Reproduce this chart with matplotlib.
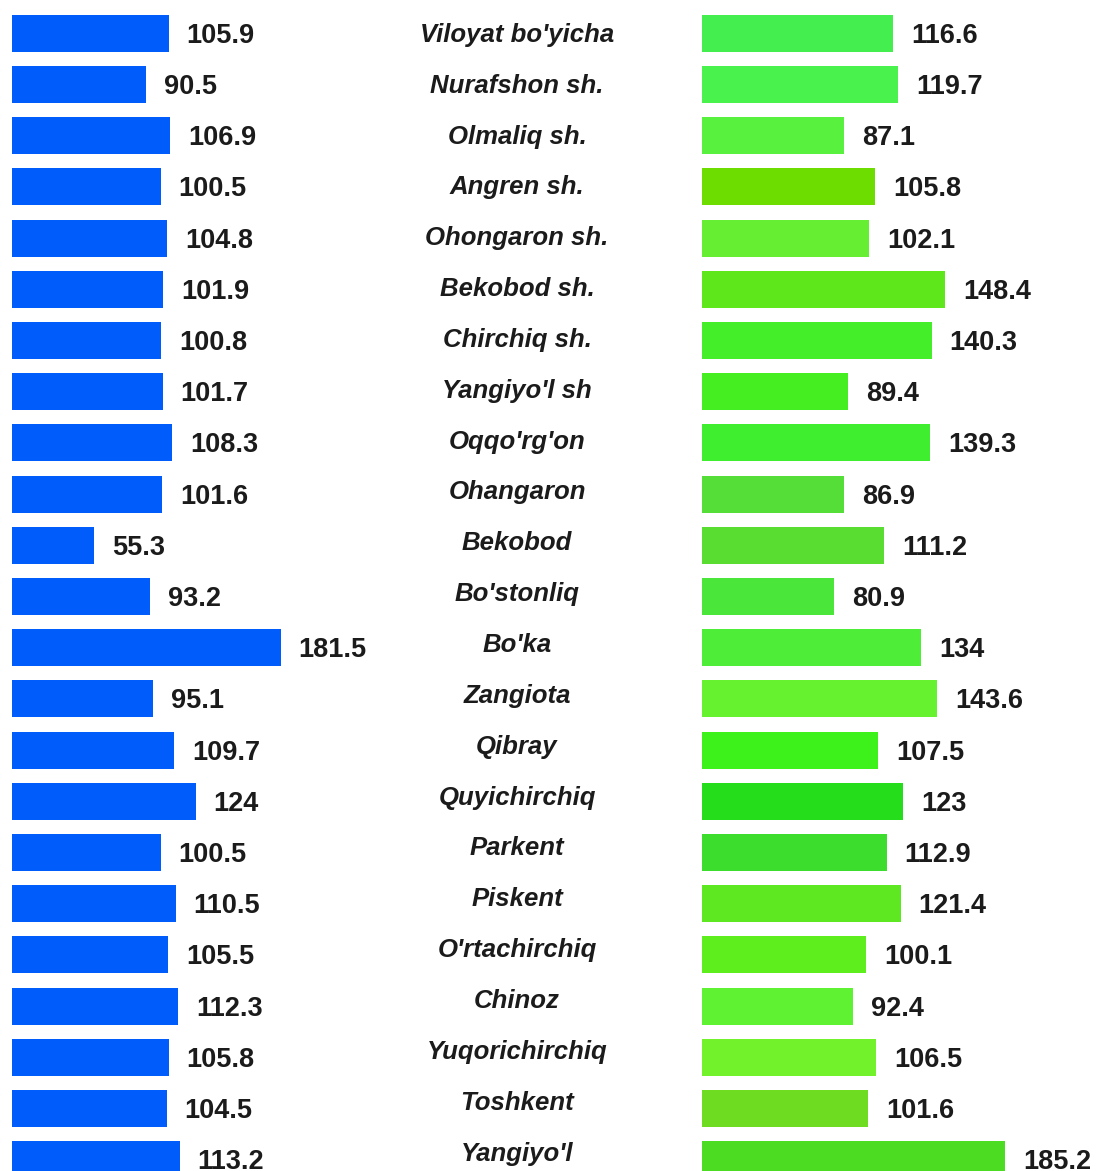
import matplotlib
matplotlib.use("Agg")
import matplotlib.pyplot as plt

districts = [
    "Viloyat bo'yicha", "Nurafshon sh.", "Olmaliq sh.", "Angren sh.",
    "Ohongaron sh.", "Bekobod sh.", "Chirchiq sh.", "Yangiyo'l sh",
    "Oqqo'rg'on", "Ohangaron", "Bekobod", "Bo'stonliq", "Bo'ka",
    "Zangiota", "Qibray", "Quyichirchiq", "Parkent", "Piskent",
    "O'rtachirchiq", "Chinoz", "Yuqorichirchiq", "Toshkent", "Yangiyo'l",
]
left_values = [
    105.9, 90.5, 106.9, 100.5, 104.8, 101.9, 100.8, 101.7, 108.3, 101.6,
    55.3, 93.2, 181.5, 95.1, 109.7, 124, 100.5, 110.5, 105.5, 112.3,
    105.8, 104.5, 113.2,
]
right_values = [
    116.6, 119.7, 87.1, 105.8, 102.1, 148.4, 140.3, 89.4, 139.3, 86.9,
    111.2, 80.9, 134, 143.6, 107.5, 123, 112.9, 121.4, 100.1, 92.4,
    106.5, 101.6, 185.2,
]
right_colors = [
    "#44ee4e", "#4af24d", "#58f23e", "#6ddd00", "#66ee33", "#5ee81c",
    "#44ee28", "#44ee20", "#40ee30", "#55dd38", "#58dd30", "#4ae63a",
    "#4eee38", "#66f22e", "#3cf21a", "#26dd1c", "#3cdd2c", "#5ee822",
    "#5eee1e", "#5ef232", "#72f22a", "#6edd22", "#4cdd22",
]
left_color = "#005cfa"
text_color = "#1b1b1b"

W, H = 1096, 1171
fig = plt.figure(figsize=(W / 100, H / 100), dpi=100)

n = len(districts)
row0, step = 33.3, 51.2  # pixel centre of first row and row pitch
top_px = row0 - step / 2
bot_px = row0 + (n - 1) * step + step / 2
ax_bottom = (H - bot_px) / H
ax_height = (bot_px - top_px) / H
ypos = list(range(n))


def bar_panel(left_px, px_per_unit, values, colors):
    xmax = 200
    ax = fig.add_axes([left_px / W, ax_bottom, xmax * px_per_unit / W, ax_height])
    ax.barh(ypos, values, height=0.72, color=colors, edgecolor="none")
    ax.set_xlim(0, xmax)
    ax.set_ylim(n - 0.5, -0.5)
    ax.axis("off")
    gap = 18 / px_per_unit
    for y, v in zip(ypos, values):
        label = f"{v:g}"
        ax.text(v + gap, y + 0.05, label, va="center", ha="left",
                fontsize=19.5, color=text_color, family="Liberation Sans",
                fontweight="bold")
    return ax


bar_panel(12, 1.48, left_values, left_color)
bar_panel(702, 1.636, right_values, right_colors)

# district names between the two panels, on a slightly tighter pitch
mid = fig.add_axes([0, ax_bottom, 1, ax_height])
mid.set_xlim(0, W)
mid.set_ylim(n - 0.5, -0.5)
mid.axis("off")
name_pitch = 50.85 / step
for y, name in zip(ypos, districts):
    mid.text(517, y * name_pitch + 0.03, name, ha="center", va="center",
             fontsize=18.5, color=text_color, family="Liberation Sans",
             fontweight="bold", style="italic")

fig.savefig("out.png", dpi=100, facecolor="white")
